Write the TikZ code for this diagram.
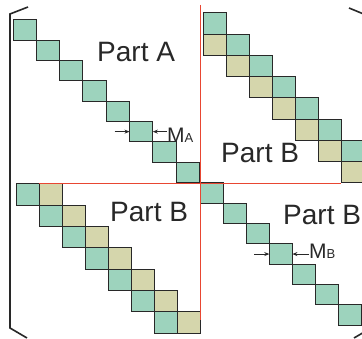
\documentclass[tikz,border=0pt]{standalone}
\usepackage{fontspec}
\setmainfont{Liberation Sans}
\usetikzlibrary{arrows.meta}
\definecolor{teal1}{RGB}{157,211,189}
\definecolor{olive1}{RGB}{213,214,172}
\definecolor{edge}{RGB}{40,40,40}
\definecolor{redline}{RGB}{232,70,50}
\begin{document}
\begin{tikzpicture}[x=1pt,y=-1pt,
  sq/.style={draw=edge,line width=1pt,inner sep=0pt,outer sep=0pt,anchor=north west},
  tsq/.style={sq,fill=teal1},
  osq/.style={sq,fill=olive1},
  lbl/.style={font=\fontsize{28}{28}\selectfont,text=edge,inner sep=0pt,anchor=base west},
  mlbl/.style={font=\fontsize{21}{21}\selectfont,text=edge,inner sep=0pt,anchor=base west},
  arr/.style={draw=edge,line width=0.8pt,-{Stealth[length=5pt,width=4pt]}},
  brk/.style={draw=edge,line width=1.6pt},
  part/.style={draw=redline,line width=1pt}]
\clip (0,0) rectangle (362,339);
\fill[white] (0,0) rectangle (362,339);
% Part A
\foreach \i in {0,...,7}
  \node[tsq,minimum width=23.3pt,minimum height=20.3pt] (a\i) at ({13+23.3*\i},{20+20.3*\i}) {};
% top-right Part B
\foreach \i in {0,...,6}{
  \node[tsq,minimum width=23pt,minimum height=21.25pt] (t\i) at ({203+23*\i},{13+21.25*\i}) {};
  \node[osq,minimum width=23pt,minimum height=21.25pt] (u\i) at ({203+23*\i},{34.25+21.25*\i}) {};
}
% bottom-left Part B
\foreach \i in {0,...,6}{
  \node[tsq,minimum width=23pt,minimum height=21.3pt] (l\i) at ({16+23*\i},{184+21.3*\i}) {};
  \node[osq,minimum width=23pt,minimum height=21.3pt] (m\i) at ({39+23*\i},{184+21.3*\i}) {};
}
% bottom-right Part B
\foreach \i in {0,...,6}
  \node[tsq,minimum width=23.1pt,minimum height=20.3pt] (b\i) at ({200+23.1*\i},{183+20.3*\i}) {};
% partition lines
\draw[part] (200.5,5) -- (200.5,320);
\draw[part] (39,183.5) -- (341,183.5);
% labels
\node[lbl] (pa) at (97,62) {Part A};
\node[lbl] (pb1) at (221,163) {Part B};
\node[lbl] (pb2) at (110,222) {Part B};
\node[lbl] (pb3) at (283,225) {Part B};
\node[mlbl] (ma) at (167,143) {M{\fontsize{13}{13}\selectfont A}};
\node[mlbl] (mb) at (309,259) {M{\fontsize{13}{13}\selectfont B}};
% width markers
\draw[arr] ([xshift=-15pt]a5.west) -- (a5.west);
\draw[arr] (a5.east -| ma.west) -- (a5.east);
\draw[arr] ([xshift=-15pt]b3.west) -- (b3.west);
\draw[arr] (b3.east -| mb.west) -- (b3.east);
% brackets
\draw[brk] (28,7) -- (10,14) -- (10,328) -- (27,338);
\draw[brk] (349,8) -- (366,15) -- (366,331) -- (354,338);
\end{tikzpicture}
\end{document}
